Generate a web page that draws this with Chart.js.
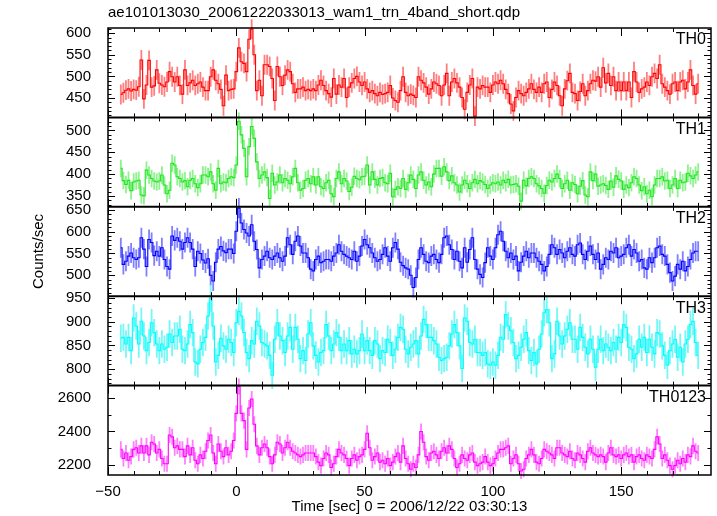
<!DOCTYPE html>
<html><head><meta charset="utf-8">
<script src="https://cdn.jsdelivr.net/npm/chart.js@4/dist/chart.umd.min.js"></script>
<style>html,body{margin:0;padding:0;background:#fff}#wrap{width:717px;height:516px}</style>
</head><body><div id="wrap"><canvas id="c" width="717" height="516"></canvas></div>
<script>
// ---- data (1 s bins starting at t = -45 s) ----
const tStart = -45;
const binWidth = 1;
const th0 = [
458,462,468,471,466,470,468,476,538,448,
480,537,475,478,515,484,480,476,487,511,
499,487,499,479,459,515,479,485,491,479,
483,487,475,467,467,499,515,491,483,470,
432,503,467,470,471,511,566,534,530,511,
586,609,550,467,491,455,527,527,523,495,
444,523,499,479,503,515,511,483,463,471,
471,475,467,470,467,471,467,480,491,479,
467,460,452,495,459,
480,475,495,451,475,485,495,500,487,479,
487,471,463,467,460,455,463,458,460,463,
479,450,444,440,467,499,463,455,459,456,
451,499,491,485,475,459,471,487,483,479,
455,480,507,455,487,495,485,475,451,424,
463,480,495,408,475,471,479,475,475,463,
480,487,483,491,483,470,460,436,420,451,
467,460,455,463,471,483,470,463,475,463,
483,487,451,470,487,479,455,432,471,490,
507,
463,460,444,465,483,455,467,483,491,489,
499,475,520,485,507,479,499,467,487,467,
487,467,487,451,511,487,463,471,475,487,
479,499,507,495,527,483,475,467,459,483,
487,467,487,491,471,487,515,479,459,483];
const th1 = [
413,385,376,386,362,382,384,386,352,350,
409,398,390,384,382,384,398,375,355,363,
425,421,394,390,382,385,371,386,390,378,
369,378,398,398,394,405,378,363,413,378,
382,380,390,394,392,421,521,490,459,394,
463,509,482,428,390,398,405,392,344,402,
375,382,398,380,390,386,378,394,413,380,
363,367,386,390,378,394,375,394,371,367,
380,386,355,348,390,
405,378,390,384,360,370,395,390,387,394,
395,421,375,405,388,375,390,392,380,378,
402,348,365,371,367,390,365,380,398,388,
367,398,405,386,375,382,371,400,413,413,
395,417,405,385,396,380,375,359,375,386,
378,367,380,388,378,385,382,376,367,375,
380,378,382,375,386,380,388,375,376,378,
372,338,386,373,390,394,390,378,373,367,
356,374,386,382,390,400,390,367,378,386,
363,
380,376,355,372,385,352,348,405,385,400,
372,375,378,374,365,384,370,396,388,384,
365,375,369,380,394,390,375,362,371,355,
363,348,375,390,390,394,384,386,367,375,
390,367,386,380,382,402,396,390,398,405];
const th2 = [
563,525,532,544,551,540,536,540,586,560,
520,582,575,545,555,544,563,536,520,514,
590,580,586,578,560,575,586,575,560,520,
555,550,535,528,538,500,487,530,560,566,
556,552,560,560,550,601,654,620,605,597,
590,616,578,559,517,536,544,555,540,536,
544,551,540,532,544,586,570,548,578,590,
567,551,551,540,514,510,536,544,529,532,
536,536,532,544,551,570,555,548,544,540,
536,555,532,544,567,582,570,563,551,540,
532,536,548,563,544,532,563,575,560,530,
522,517,514,500,472,495,536,563,548,532,
529,544,548,536,529,548,586,590,570,559,
536,555,532,517,563,530,559,586,536,514,
502,495,529,563,544,536,563,593,601,578,
555,540,551,536,544,510,530,544,555,540,
551,551,540,532,525,510,520,548,570,563,
548,559,551,540,555,563,548,544,570,574,
548,536,555,567,548,536,551,514,525,540,
536,555,551,563,540,544,548,563,570,544,
559,551,532,536,517,514,540,529,540,563,
567,548,544,525,506,487,498,525,514,532,
510,520,536,551,555,555];
const th3 = [
865,867,853,867,839,908,891,853,901,870,
839,856,898,877,853,839,853,842,846,874,
856,870,870,884,842,839,853,894,877,815,
811,842,856,867,912,950,891,815,829,865,
849,842,863,856,835,898,922,912,877,835,
822,860,853,901,891,856,853,849,829,787,
863,898,870,860,835,870,888,842,888,863,
822,839,818,874,898,849,829,815,835,839,
894,870,839,853,877,867,839,853,839,860,
832,842,832,839,874,839,860,839,829,860,
853,822,839,835,863,856,829,842,867,888,
884,842,832,846,853,860,832,870,905,894,
867,867,860,853,825,818,822,825,849,874,
894,877,849,801,908,901,856,853,863,835,
835,829,835,811,808,815,808,829,867,863,
915,891,881,856,822,829,846,863,877,839,
818,835,811,842,874,919,926,898,822,832,
901,870,853,870,884,898,863,863,842,888,
867,846,832,863,842,804,842,863,839,853,
846,839,856,842,867,856,894,888,846,842,
822,832,863,846,867,835,863,846,832,877,
874,849,829,808,839,853,863,825,846,815,
853,863,894,901,856,829];
const th0123 = [
2293,2239,2271,2228,2250,2293,2303,2271,2314,2271,
2314,2260,2336,2325,2271,2293,2239,2207,2207,2379,
2368,2303,2314,2293,2293,2250,2314,2260,2303,2228,
2207,2260,2239,2282,2346,2379,2271,2207,2325,2282,
2250,2303,2260,2282,2346,2508,2669,2508,2465,2293,
2540,2594,2443,2314,2260,2303,2325,2303,2250,2207,
2260,2336,2325,2271,2303,2336,2303,2282,2271,2260,
2250,2260,2271,2271,2271,2271,2250,2217,2196,2239,
2271,2260,2185,2207,2250,2293,2271,2260,2239,2196,
2239,2260,2228,2250,2260,2293,2389,2303,2228,2250,
2271,2217,2228,2207,2239,2196,2217,2250,2271,2217,
2314,2239,2207,2174,2207,2185,2260,2400,2336,2250,
2228,2271,2282,2260,2239,2282,2303,2271,2314,2293,
2239,2185,2207,2260,2239,2228,2260,2271,2217,2196,
2207,2217,2250,2217,2196,2207,2239,2271,2293,2293,
2303,2314,2207,2239,2260,2207,2164,2174,2239,2260,
2293,2260,2217,2207,2239,2293,2282,2271,2260,2239,
2303,2303,2271,2260,2250,2282,2239,2228,2271,2260,
2239,2217,2282,2303,2271,2260,2250,2260,2250,2217,
2271,2303,2260,2250,2260,2239,2260,2271,2250,2260,
2217,2250,2260,2239,2228,2260,2250,2239,2293,2368,
2325,2239,2260,2228,2196,2174,2196,2228,2207,2239,
2217,2260,2250,2314,2282,2271];
const seriesNames = ['TH0', 'TH1', 'TH2', 'TH3', 'TH0123'];
const seriesValues = [th0, th1, th2, th3, th0123];
const seriesErrors = [23, 20, 23, 29, 48];
const yRanges = [[405, 612], [325, 530], [452, 657], [765, 954], [2140, 2674]];
const yTickLabels = [[450, 500, 550, 600], [350, 400, 450, 500], [500, 550, 600, 650], [800, 850, 900, 950], [2200, 2400, 2600]];
const yMinorSteps = [10, 10, 10, 10, 100];
const yMajorSteps = [50, 50, 50, 50, 200];
const xTickLabels = [-50, 0, 50, 100, 150];
const xRange = [-50, 185];

// ---- styles ----
const colors = ['#ff0000', '#1ee61e', '#0000ff', '#00ffff', '#ff00ff'];
const errColors = ['rgba(255,0,0,0.5)', 'rgba(30,230,30,0.5)', 'rgba(0,0,255,0.5)', 'rgba(0,240,240,0.55)', 'rgba(255,0,255,0.5)'];
const FONT = "'Liberation Sans', Arial, Helvetica, sans-serif";
Chart.defaults.font.family = FONT;
Chart.defaults.font.size = 15;
Chart.defaults.color = '#000';

const axisIds = ['y0', 'y1', 'y2', 'y3', 'y4'];
const datasets = seriesValues.map((vals, i) => ({
  label: seriesNames[i],
  data: vals.map((v, k) => ({x: tStart + k * binWidth, y: v})),
  yAxisID: axisIds[i],
  borderColor: colors[i],
  borderWidth: 1.1,
  pointRadius: 0,
  stepped: 'middle',
  clip: false,
  err: seriesErrors[i],
  errColor: errColors[i]
}));

const scales = {
  x: {
    type: 'linear', position: 'bottom', min: xRange[0], max: xRange[1],
    grid: {display: false}, border: {display: false},
    afterBuildTicks: s => { s.ticks = xTickLabels.map(v => ({value: v})); },
    ticks: {padding: 0, maxRotation: 0, autoSkip: false, callback: v => String(v).replace('-', '\u2212')},
    title: {display: true, text: 'Time [sec] 0 = 2006/12/22 03:30:13', padding: {top: 0, bottom: 0}},
    afterFit: s => { s.height = 41; }
  }
};
// define from bottom panel to top panel
for (let i = 4; i >= 0; i--) {
  scales[axisIds[i]] = {
    type: 'linear', position: 'left', stack: 'panels', stackWeight: 1, offset: false,
    min: yRanges[i][0], max: yRanges[i][1],
    grid: {display: false}, border: {display: false},
    afterBuildTicks: (s) => { s.ticks = yTickLabels[i].map(v => ({value: v})); },
    ticks: {padding: 9, autoSkip: false, callback: v => String(v)},
    title: i === 2 ? {display: true, text: 'Counts/sec', padding: {top: 30, bottom: 0}} : {display: false},
    afterFit: s => { s.width = 108; }
  };
}

const errorBars = {
  id: 'errorBars',
  beforeDatasetsDraw(chart) {
    const ctx = chart.ctx, xs = chart.scales.x;
    chart.data.datasets.forEach(ds => {
      const ys = chart.scales[ds.yAxisID];
      ctx.save();
      ctx.strokeStyle = ds.errColor;
      ctx.lineWidth = 1.8;
      ctx.beginPath();
      ds.data.forEach(p => {
        const px = xs.getPixelForValue(p.x);
        ctx.moveTo(px, ys.getPixelForValue(p.y - ds.err));
        ctx.lineTo(px, ys.getPixelForValue(p.y + ds.err));
      });
      ctx.stroke();
      ctx.restore();
    });
  }
};

const frameAndTicks = {
  id: 'frameAndTicks',
  afterDatasetsDraw(chart) {
    const ctx = chart.ctx, xs = chart.scales.x;
    const L = chart.chartArea.left, R = chart.chartArea.right;
    ctx.save();
    ctx.strokeStyle = '#000';
    ctx.lineWidth = 1;
    ctx.beginPath();
    axisIds.forEach((id, i) => {
      const ys = chart.scales[id];
      const lo = Math.ceil(ys.min / yMinorSteps[i]) * yMinorSteps[i];
      for (let v = lo; v <= ys.max; v += yMinorSteps[i]) {
        const len = (v % yMajorSteps[i] === 0) ? 7 : 3.5;
        const py = Math.round(ys.getPixelForValue(v)) + 0.5;
        ctx.moveTo(L, py); ctx.lineTo(L + len, py);
        ctx.moveTo(R, py); ctx.lineTo(R - len, py);
      }
      for (let v = -50; v <= xs.max; v += 10) {
        const len = (v % 50 === 0) ? 8 : 4;
        const px = Math.round(xs.getPixelForValue(v)) + 0.5;
        ctx.moveTo(px, ys.top); ctx.lineTo(px, ys.top + len);
        ctx.moveTo(px, ys.bottom); ctx.lineTo(px, ys.bottom - len);
      }
    });
    ctx.stroke();
    // frame
    ctx.lineWidth = 1.5;
    const top = chart.scales.y0.top, bottom = chart.scales.y4.bottom;
    ctx.strokeRect(L, top, R - L, bottom - top);
    ctx.lineWidth = 2;
    ctx.beginPath();
    ['y1', 'y2', 'y3', 'y4'].forEach(id => {
      const y = chart.scales[id].top;
      ctx.moveTo(L, y); ctx.lineTo(R, y);
    });
    ctx.stroke();
    // panel labels
    ctx.fillStyle = '#000';
    ctx.font = '16px ' + FONT;
    ctx.textAlign = 'right';
    ctx.textBaseline = 'top';
    axisIds.forEach((id, i) => {
      ctx.fillText(seriesNames[i], R - 5, chart.scales[id].top + 4);
    });
    ctx.restore();
  }
};

new Chart(document.getElementById('c'), {
  type: 'line',
  data: {datasets},
  options: {
    responsive: false, animation: false, devicePixelRatio: 1,
    layout: {padding: {left: 0, right: 6, top: 0, bottom: 0}},
    plugins: {
      legend: {display: false}, tooltip: {enabled: false},
      title: {display: true, text: 'ae101013030_20061222033013_wam1_trn_4band_short.qdp', align: 'start', fullSize: false,
              font: {size: 15, weight: 'normal'}, color: '#000', padding: {top: 4, bottom: 6}}
    },
    scales
  },
  plugins: [errorBars, frameAndTicks]
});
</script></body></html>
